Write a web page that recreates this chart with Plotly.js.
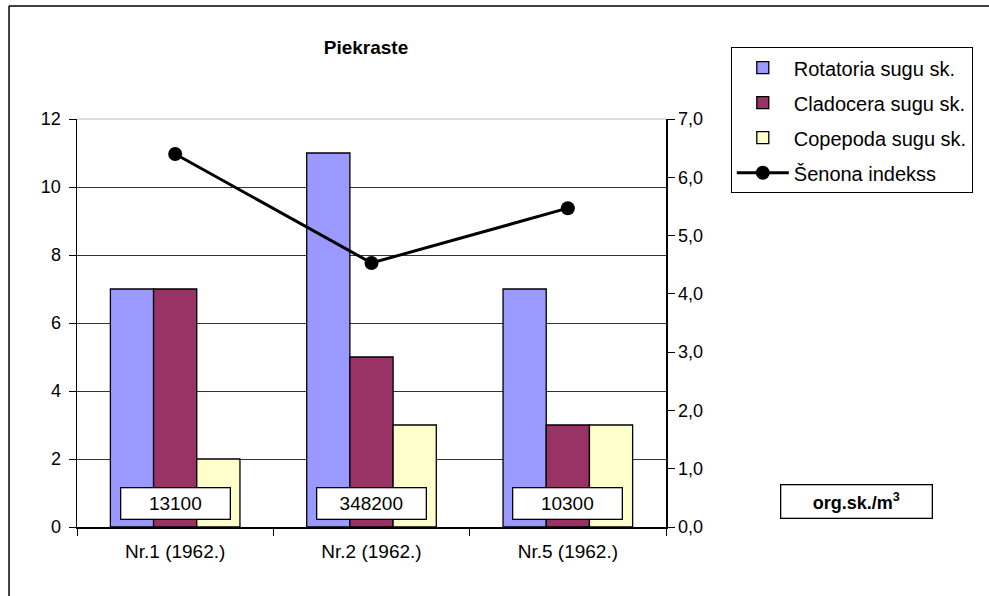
<!DOCTYPE html>
<html>
<head>
<meta charset="utf-8">
<script src="https://cdn.plot.ly/plotly-3.0.1.min.js"></script>
<style>html,body{margin:0;padding:0;background:#fff;}#chart{width:989px;height:596px;}</style>
</head>
<body>
<div id="chart"></div>
<script>
// ---- data ----
var categories = ['Nr.1 (1962.)', 'Nr.2 (1962.)', 'Nr.5 (1962.)'];
var rotatoria = [7, 11, 7];
var cladocera = [7, 5, 3];
var copepoda = [2, 3, 3];
var shannon = [6.4, 4.53, 5.47];
var totals = ['13100', '348200', '10300'];
var seriesNames = ['Rotatoria sugu sk.', 'Cladocera sugu sk.', 'Copepoda sugu sk.', 'Šenona indekss'];
var leftTicks = [0, 2, 4, 6, 8, 10, 12];
var rightTicks = [0, 1, 2, 3, 4, 5, 6, 7];

var FONT = 'Liberation Sans, Arial, sans-serif';
var outline = {color: '#000', width: 1.3};

var traces = [
  {type: 'bar', name: seriesNames[0], x: categories, y: rotatoria, legendgroup: 'a',
   marker: {color: '#9999FF', line: outline}},
  {type: 'bar', name: seriesNames[1], x: categories, y: cladocera, legendgroup: 'b',
   marker: {color: '#993366', line: outline}},
  {type: 'bar', name: seriesNames[2], x: categories, y: copepoda, legendgroup: 'c',
   marker: {color: '#FFFFCC', line: outline}},
  {type: 'scatter', mode: 'lines+markers', name: seriesNames[3], x: categories, y: shannon,
   yaxis: 'y2', legendgroup: 'd',
   line: {color: '#000', width: 3}, marker: {color: '#000', size: 14, symbol: 'circle'}}
];

var annotations = totals.map(function (t, i) {
  return {x: categories[i], y: 0.7, xref: 'x', yref: 'y', text: t, showarrow: false,
    font: {family: FONT, size: 19, color: '#000'}, bgcolor: '#fff', bordercolor: '#000',
    borderwidth: 1.3, width: 106, height: 28, xanchor: 'center', yanchor: 'middle'};
});
annotations.push({x: 1.3226, y: 0.0637, xref: 'paper', yref: 'paper', showarrow: false,
  text: '<b>org.sk./m<sup>3</sup></b>', font: {family: FONT, size: 18, color: '#000'},
  bgcolor: '#fff', bordercolor: '#000', borderwidth: 1.3, width: 148, height: 30,
  xanchor: 'center', yanchor: 'middle'});

var layout = {
  width: 989, height: 596,
  margin: {l: 77, r: 323, t: 119, b: 69},
  paper_bgcolor: '#fff', plot_bgcolor: '#fff',
  separators: ', ',
  barmode: 'group', bargap: 0.34, bargroupgap: 0,
  font: {family: FONT, size: 18, color: '#000'},
  title: {text: '<b>Piekraste</b>', font: {family: FONT, size: 19, color: '#000'},
    x: 366 / 989, xanchor: 'center', y: 1 - 47 / 596, yanchor: 'middle', xref: 'container', yref: 'container'},
  xaxis: {type: 'category', showline: true, linecolor: '#000', linewidth: 2,
    ticks: 'outside', tickson: 'boundaries', ticklen: 7, tickcolor: '#000',
    showgrid: false, tickfont: {family: FONT, size: 19, color: '#000'}, ticklabelstandoff: 6,
    fixedrange: true},
  yaxis: {range: [0, 12], tickvals: leftTicks, showline: true, linecolor: '#000', linewidth: 1.5,
    ticks: 'outside', ticklen: 7, tickcolor: '#000', showgrid: true, gridcolor: '#333',
    gridwidth: 1, zeroline: false, tickfont: {family: FONT, size: 18, color: '#000'}, ticklabelstandoff: 4},
  yaxis2: {range: [0, 7], tickvals: rightTicks, tickformat: '.1f', overlaying: 'y', side: 'right',
    showline: true, linecolor: '#000', linewidth: 1.5, ticks: 'outside', ticklen: 7, tickcolor: '#000',
    showgrid: false, zeroline: false, tickfont: {family: FONT, size: 18, color: '#000'}},
  showlegend: true,
  legend: {x: 1.110, y: 1.176, xanchor: 'left', yanchor: 'top', bgcolor: '#fff',
    bordercolor: '#000', borderwidth: 1, traceorder: 'grouped', tracegroupgap: 6,
    font: {family: FONT, size: 20, color: '#000'}, itemwidth: 52},
  annotations: annotations,
  shapes: [
    {type: 'line', xref: 'paper', yref: 'paper', x0: 0, x1: 1, y0: 1, y1: 1,
     line: {color: '#bbb', width: 1}},
    {type: 'line', xref: 'paper', yref: 'paper', x0: -0.1154, x1: -0.1154, y0: 1.277, y1: -0.3,
     line: {color: '#000', width: 1.5}},
    {type: 'line', xref: 'paper', yref: 'paper', x0: -0.1154, x1: 1.6, y0: 1.277, y1: 1.277,
     line: {color: '#000', width: 1.5}}
  ]
};

Plotly.newPlot('chart', traces, layout, {displayModeBar: false, staticPlot: true});
</script>
</body>
</html>
